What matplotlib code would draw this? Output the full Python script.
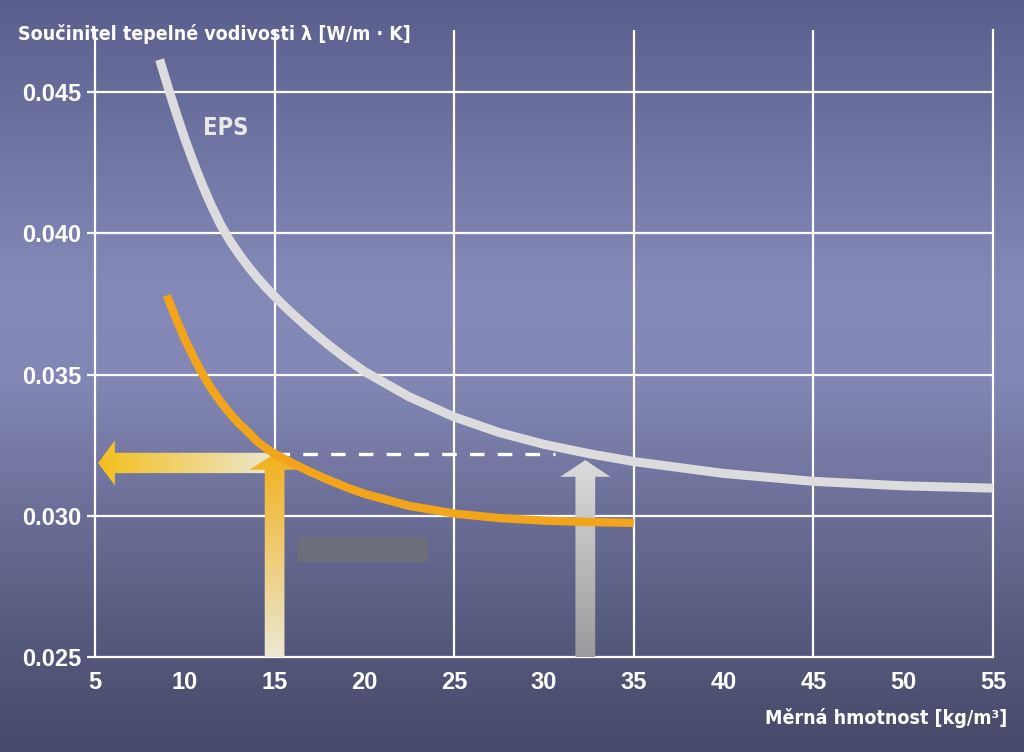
import numpy as np
import matplotlib.pyplot as plt
from matplotlib import font_manager
from matplotlib.colors import LinearSegmentedColormap
from matplotlib.patches import Polygon, Rectangle

plt.rcParams['lines.scale_dashes'] = False

# Hodnoty
hustota_eps = [8.6, 9.1, 9.5, 10, 10.5, 11, 11.5, 12, 12.5, 13, 13.5, 14, 14.5, 15, 15.5, 16, 17, 18, 19,
               20, 22.5, 25, 27.5, 30, 32.5, 35, 40, 45, 50, 55]
lambda_eps = [0.04615, 0.0451, 0.0443, 0.04335, 0.04248, 0.04168, 0.04095, 0.0403, 0.03975, 0.03928,
              0.03885, 0.03846, 0.0381, 0.03777, 0.03745, 0.03715, 0.03658, 0.03605, 0.03556,
              0.03511, 0.03421, 0.0335, 0.03295, 0.03253, 0.0322, 0.03192, 0.0315, 0.03122, 0.03106, 0.03098]
hustota_neo = [9, 9.5, 10, 10.5, 11, 11.5, 12, 12.5, 13, 13.5, 14, 14.5, 15, 16, 17, 18, 19, 20,
               22.5, 25, 27.5, 30, 32.5, 35]
lambda_neo = [0.0378, 0.0370, 0.03625, 0.0356, 0.0350, 0.03448, 0.03403, 0.03363, 0.03328, 0.03298,
              0.03265, 0.0324, 0.0322, 0.03186, 0.03155, 0.03127, 0.03101, 0.03078,
              0.03035, 0.03008, 0.02992, 0.02983, 0.02978, 0.02975]
x_labels = [5, 10, 15, 20, 25, 30, 35, 40, 45, 50, 55]
x_grid = [5, 15, 25, 35, 45, 55]
y_ticks = [0.025, 0.030, 0.035, 0.040, 0.045]
y_tick_labels = ['0.025', '0.030', '0.035', '0.040', '0.045']
lambda_odecet = 0.0322
hustota_neo_bod = 15
hustota_eps_bod = 32.3
lambda_eps_bod = 0.03197

# úzké písmo, pokud je k dispozici
cond = font_manager.FontProperties(family='DejaVu Sans', weight='bold', stretch='condensed')
if 'Condensed' in font_manager.findfont(cond, fallback_to_default=True):
    TXT = dict(family=['DejaVu Sans'], fontstretch='condensed', fontweight='bold')
    txt_size = 14
else:
    TXT = dict(family=['Liberation Sans', 'DejaVu Sans'], fontweight='bold')
    txt_size = 13
WIDE = ['Liberation Sans', 'DejaVu Sans']


def gradient_patch(ax, pts, c_start, c_end, vertical, zorder=3):
    poly = Polygon(pts, closed=True, facecolor='none', edgecolor='none', zorder=zorder)
    ax.add_patch(poly)
    xs = [p[0] for p in pts]
    ys = [p[1] for p in pts]
    cmap = LinearSegmentedColormap.from_list('g', [c_start, c_end])
    grad = np.linspace(0, 1, 256)
    img = grad.reshape(-1, 1) if vertical else grad.reshape(1, -1)
    im = ax.imshow(img, cmap=cmap, extent=[min(xs), max(xs), min(ys), max(ys)],
                   origin='lower', aspect='auto', zorder=zorder, interpolation='bilinear')
    im.set_clip_path(poly)


def up_arrow(xc, y0, yt, w, hw, hl):
    return [(xc - w, y0), (xc + w, y0), (xc + w, yt - hl), (xc + hw, yt - hl),
            (xc, yt), (xc - hw, yt - hl), (xc - w, yt - hl)]


fig = plt.figure(figsize=(10.24, 7.52), dpi=100)

# pozadí s přechodem
bg = fig.add_axes([0, 0, 1, 1], zorder=0)
bg_cmap = LinearSegmentedColormap.from_list(
    'bg', [(0, '#474a69'), (0.15, '#55597c'), (0.5, '#8387b5'), (0.62, '#8589b8'), (1, '#5b5f8e')])
bg.imshow(np.linspace(0, 1, 512).reshape(-1, 1), cmap=bg_cmap, aspect='auto',
          extent=[0, 1, 0, 1], origin='lower')
bg.axis('off')

ax = fig.add_axes([95 / 1024, 1 - 657 / 752, 898 / 1024, 627 / 752], zorder=1)
ax.set_facecolor('none')

# mřížka
for x in x_grid[1:-1]:
    ax.axvline(x, color='white', lw=1.6, zorder=1)
for y in y_ticks[1:]:
    ax.axhline(y, color='white', lw=1.6, zorder=1)

# šipky
gradient_patch(ax, up_arrow(hustota_eps_bod, 0.025, lambda_eps_bod, 0.55, 1.4, 0.00059),
               '#9a9a9c', '#dcdcdc', vertical=True)
yc = 0.03187
h, hh = 0.00036, 0.0008
left_pts = [(hustota_neo_bod, yc - h), (hustota_neo_bod, yc + h), (6.11, yc + h), (6.11, yc + hh),
            (5.17, yc), (6.11, yc - hh), (6.11, yc - h)]
gradient_patch(ax, left_pts, '#f4be1c', '#ebe8d0', vertical=False)
gradient_patch(ax, up_arrow(hustota_neo_bod, 0.025, lambda_odecet, 0.55, 1.4, 0.00057),
               '#ebe8d2', '#f2b01c', vertical=True, zorder=3.5)

# šedý obdélník
ax.add_patch(Rectangle((16.25, 0.02836), 7.29, 0.00089, facecolor='#6c6f7a', edgecolor='none', zorder=2))

# přerušovaná čára
ax.plot([hustota_neo_bod, 30.6], [lambda_odecet, lambda_odecet], color='white', lw=2.4,
        dashes=(10.5, 9.5), zorder=2)

# křivky
ax.plot(hustota_eps, lambda_eps, color='#dcdcde', lw=6.5, solid_capstyle='butt',
        solid_joinstyle='round', zorder=4)
ax.plot(hustota_neo, lambda_neo, color='#f2a51a', lw=6, solid_capstyle='butt',
        solid_joinstyle='round', zorder=4)

ax.text(12.29, 0.04373, 'EPS', color='#e8e8ea', fontsize=txt_size + 3,
        ha='center', va='center', zorder=5, **TXT)

ax.set_xlim(5, 55)
ax.set_ylim(0.025, 0.0472)
ax.set_xticks(x_labels)
ax.set_xticks(x_grid, minor=True)
ax.set_yticks(y_ticks)
ax.set_yticklabels(y_tick_labels)
for s in ['left', 'bottom', 'right']:
    ax.spines[s].set_color('white')
    ax.spines[s].set_linewidth(1.6)
ax.spines['top'].set_visible(False)
ax.tick_params(colors='white', length=6, width=1.6, pad=4, labelsize=17)
ax.tick_params(axis='x', which='major', length=0, pad=10)
ax.tick_params(axis='x', which='minor', colors='white', length=6, width=1.6)
for lab in ax.get_xticklabels() + ax.get_yticklabels():
    lab.set_fontweight('bold')
    lab.set_family(WIDE)

fig.text(18 / 1024, 1 - 40 / 752, 'Součinitel tepelné vodivosti λ [W/m · K]', color='white',
         fontsize=txt_size, va='baseline', ha='left', **TXT)
fig.text(1007 / 1024, 1 - 724 / 752, 'Měrná hmotnost [kg/m³]', color='white',
         fontsize=txt_size, va='baseline', ha='right', **TXT)

fig.savefig('out.png', dpi=100)
